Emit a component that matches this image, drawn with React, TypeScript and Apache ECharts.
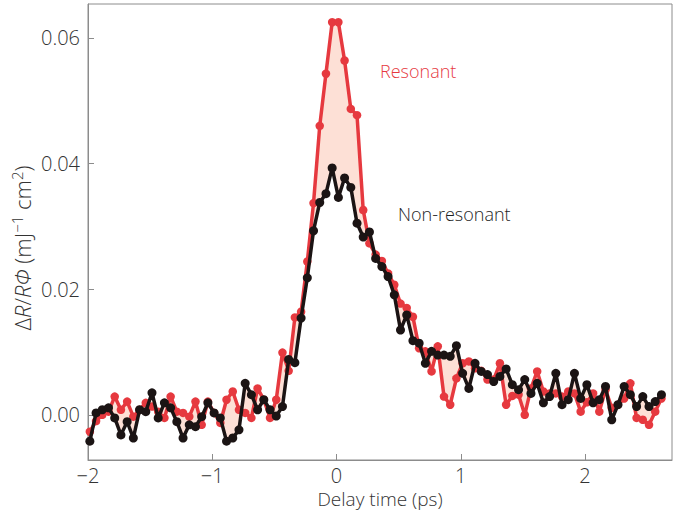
import React, { useEffect, useRef } from "react";
import * as echarts from "echarts";

// Delay-time sampling (ps)
const T0 = -1.985;
const STEP = 0.05;

const resonant = [
  -0.0027, -0.001, 0.0, 0.0005, 0.0029, 0.0008, 0.0021, -0.0003, 0.0008, 0.0019,
  0.0013, 0.0005, -0.0005, 0.0029, 0.0005, 0.0003, -0.0003, 0.0021, -0.0016, 0.0021,
  0.0003, -0.0013, 0.0024, 0.0037, 0.0008, 0.0003, -0.0005, 0.0042, 0.0024, -0.0005,
  0.0024, 0.0099, 0.007, 0.0155, 0.0164, 0.0244, 0.0337, 0.046, 0.0543, 0.0625,
  0.0625, 0.0564, 0.0487, 0.0477, 0.0326, 0.0273, 0.0255, 0.0245, 0.0225, 0.0207,
  0.0177, 0.017, 0.0156, 0.0106, 0.0101, 0.0069, 0.0109, 0.0029, 0.0016, 0.0058,
  0.0082, 0.0085, 0.0074, 0.007, 0.0056, 0.0056, 0.0082, 0.0016, 0.003, 0.0032,
  0.0, 0.0042, 0.0069, 0.0037, 0.0034, 0.0034, 0.0029, 0.0037, 0.0034, 0.0005,
  0.002, 0.0034, 0.0005, 0.004, 0.0011, 0.0016, 0.0026, 0.005, -0.0005, -0.0008,
  -0.0016, 0.0005, 0.0026,
];

const nonResonant = [
  -0.0042, 0.0003, 0.0008, 0.0011, -0.0005, -0.0032, -0.0011, -0.0037, 0.0008, 0.0005,
  0.0035, -0.0005, 0.0019, 0.0011, -0.0011, -0.0037, -0.0016, -0.0019, -0.0003, 0.0019,
  0.0003, -0.0005, -0.0042, -0.0037, -0.0024, 0.005, 0.0032, 0.0008, 0.0024, 0.0008,
  -0.0002, 0.0013, 0.0088, 0.0083, 0.0154, 0.0218, 0.0293, 0.0338, 0.0352, 0.0393,
  0.0346, 0.0377, 0.0362, 0.0305, 0.0283, 0.0291, 0.0249, 0.0236, 0.022, 0.0191,
  0.0135, 0.0159, 0.0118, 0.0114, 0.0082, 0.0101, 0.0095, 0.0095, 0.0093, 0.011,
  0.0066, 0.0042, 0.0082, 0.0069, 0.0064, 0.0053, 0.0061, 0.0073, 0.0048, 0.004,
  0.0056, 0.0034, 0.005, 0.0019, 0.0029, 0.0066, 0.0016, 0.0024, 0.0066, 0.0026,
  0.0048, 0.0019, 0.0024, 0.0045, -0.0008, 0.0016, 0.0045, 0.0032, 0.0013, 0.0029,
  0.0013, 0.0021, 0.0032,
];

const yTickValues = [0, 0.02, 0.04, 0.06];
const xTickValues = [-2, -1, 0, 1, 2];

const RED = "#e6393f";
const BLACK = "#1b1414";
const FILL = "#fde0d6";
const FONT = "Open Sans";
const TEXT = "#333333";
const W = 300;

export default function App() {
  const ref = useRef<HTMLDivElement>(null);

  useEffect(() => {
    if (!ref.current) return;
    const chart = echarts.init(ref.current, undefined, { renderer: "svg" });
    const times = resonant.map((_, i) => +(T0 + i * STEP).toFixed(4));
    const redData = times.map((t, i) => [t, resonant[i]]);
    const blackData = times.map((t, i) => [t, nonResonant[i]]);

    const option: any = {
      animation: false,
      backgroundColor: "#ffffff",
      grid: {
        left: 88,
        right: 13,
        top: 4,
        bottom: 57,
        show: true,
        borderColor: "#8c8c8c",
        borderWidth: 1,
        backgroundColor: "transparent",
      },
      xAxis: {
        type: "value",
        min: -2,
        max: 2.7,
        interval: 1,
        name: "Delay time (ps)",
        nameLocation: "middle",
        nameGap: 29,
        nameTextStyle: { fontFamily: FONT, fontSize: 19, fontWeight: W, color: TEXT },
        axisLine: { show: true, onZero: false, lineStyle: { color: "#8c8c8c", width: 1 } },
        axisTick: { show: true, inside: true, length: 6, lineStyle: { color: "#8c8c8c" }, customValues: xTickValues },
        axisLabel: {
          fontFamily: FONT,
          fontSize: 20,
          fontWeight: W,
          color: TEXT,
          margin: 5,
          customValues: xTickValues,
          formatter: (v: number) => (v < 0 ? "\u2212" + Math.abs(v) : String(v)),
        },
        splitLine: { show: false },
      },
      yAxis: {
        type: "value",
        min: -0.0072,
        max: 0.0654,
        axisLine: { show: true, onZero: false, lineStyle: { color: "#8c8c8c", width: 1 } },
        axisTick: { show: true, inside: true, length: 6, lineStyle: { color: "#8c8c8c" }, customValues: yTickValues },
        axisLabel: {
          fontFamily: FONT,
          fontSize: 20,
          fontWeight: W,
          color: TEXT,
          margin: 8,
          customValues: yTickValues,
          formatter: (v: number) => v.toFixed(2),
        },
        splitLine: { show: false },
      },
      series: [
        {
          type: "custom",
          name: "band",
          silent: true,
          clip: true,
          z: 1,
          data: [[times[0], resonant[0]]],
          renderItem: (params: any, api: any) => {
            const pts: number[][] = [];
            for (let i = 0; i < times.length; i++) pts.push(api.coord([times[i], resonant[i]]));
            for (let i = times.length - 1; i >= 0; i--) pts.push(api.coord([times[i], nonResonant[i]]));
            return {
              type: "polygon",
              shape: { points: pts },
              style: { fill: FILL, stroke: "none" },
            };
          },
        },
        {
          type: "line",
          name: "Resonant",
          data: redData,
          z: 2,
          symbol: "circle",
          symbolSize: 8.5,
          showAllSymbol: true,
          itemStyle: { color: RED },
          lineStyle: { color: RED, width: 3.5 },
        },
        {
          type: "line",
          name: "Non-resonant",
          data: blackData,
          z: 3,
          symbol: "circle",
          symbolSize: 9,
          showAllSymbol: true,
          itemStyle: { color: BLACK },
          lineStyle: { color: BLACK, width: 3.5 },
        },
      ],
      graphic: [
        {
          type: "text",
          x: 22,
          y: 248,
          rotation: Math.PI / 2,
          style: {
            text: "{d|Δ}{i|R}{d|/}{i|RΦ} {d|(mJ}{s|−1}{d| cm}{s|2}{d|)}",
            align: "center",
            verticalAlign: "middle",
            fill: TEXT,
            font: `${W} 22px "${FONT}"`,
            rich: {
              d: { fontFamily: FONT, fontSize: 22, fontWeight: W, fill: TEXT, lineHeight: 26 },
              i: { fontFamily: FONT, fontSize: 22, fontWeight: W, fill: TEXT, fontStyle: "italic", lineHeight: 26 },
              s: { fontFamily: FONT, fontSize: 15, fontWeight: W, fill: TEXT, lineHeight: 18, verticalAlign: "top" },
            },
          },
        },
        {
          type: "text",
          left: 380,
          top: 62,
          style: { text: "Resonant", fill: RED, font: `${W} 18px "${FONT}"` },
        },
        {
          type: "text",
          left: 398,
          top: 205,
          style: { text: "Non-resonant", fill: "#1e1e1e", font: `${W} 18px "${FONT}"` },
        },
      ],
    };

    chart.setOption(option);
    return () => chart.dispose();
  }, []);

  return (
    <div
      ref={ref}
      style={{ position: "fixed", left: 0, top: 0, width: 685, height: 517, background: "#fff" }}
    />
  );
}
